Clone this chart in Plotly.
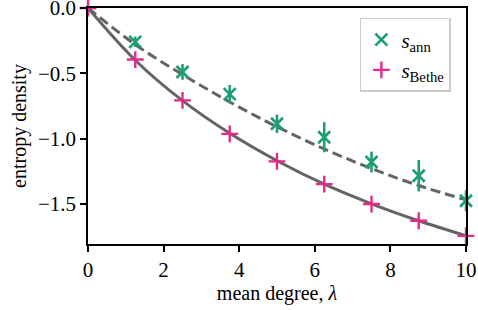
import plotly.graph_objects as go

lam = [0, 1.25, 2.5, 3.75, 5, 6.25, 7.5, 8.75, 10]
s_bethe = [0.0, -0.395, -0.708, -0.964, -1.175, -1.349, -1.502, -1.630, -1.746]
lam_ann = [1.25, 2.5, 3.75, 5, 6.25, 7.5, 8.75, 10]
s_ann = [-0.259, -0.49, -0.66, -0.887, -0.99, -1.18, -1.285, -1.477]
s_ann_err = [0.04, 0.06, 0.07, 0.07, 0.115, 0.08, 0.12, 0.08]

lam_line = [0, 1.25, 2.5, 3.75, 5, 6.25, 7.5, 8.75, 10]
solid_line = [0.0, -0.40, -0.71, -0.96, -1.17, -1.35, -1.50, -1.63, -1.745]
dashed_line = [0.0, -0.28, -0.51, -0.72, -0.91, -1.08, -1.23, -1.36, -1.47]

green = "#1b9e77"
pink = "#e7298a"
grey = "#646464"
font = "Liberation Serif"

fig = go.Figure()
fig.add_trace(go.Scatter(x=lam_line, y=dashed_line, mode="lines", line_shape="spline",
                         line=dict(color=grey, width=3, dash="10px,5px"), showlegend=False))
fig.add_trace(go.Scatter(x=lam_line, y=solid_line, mode="lines", line_shape="spline",
                         line=dict(color=grey, width=3), showlegend=False))
fig.add_trace(go.Scatter(x=lam_ann, y=s_ann, mode="markers", name="<i>s</i><sub>ann</sub>",
                         marker=dict(symbol="x-thin", size=12, color=green,
                                     line=dict(color=green, width=2.6)),
                         error_y=dict(type="data", array=s_ann_err, color=green,
                                      thickness=2.6, width=0),
                         cliponaxis=False))
fig.add_trace(go.Scatter(x=lam, y=s_bethe, mode="markers", name="<i>s</i><sub>Bethe</sub>",
                         marker=dict(symbol="cross-thin", size=12, color=pink,
                                     line=dict(color=pink, width=2.4)),
                         cliponaxis=False))

axis_common = dict(showline=True, linecolor="black", linewidth=1.6, mirror=True,
                   ticks="outside", ticklen=6, tickwidth=1.6, tickcolor="black",
                   showgrid=False, zeroline=False, ticklabeloverflow="allow",
                   automargin=False,
                   tickfont=dict(family=font, size=21, color="black"))
fig.update_xaxes(range=[0, 10], tickvals=[0, 2, 4, 6, 8, 10],
                 title=dict(text="mean degree, <i>λ</i>", font=dict(family=font, size=20, color="black"),
                            standoff=0),
                 **axis_common)
fig.update_yaxes(range=[-1.808, 0.0], tickvals=[0.0, -0.5, -1.0, -1.5], tickformat=".1f",
                 title=dict(text="entropy density", font=dict(family=font, size=20, color="black"),
                            standoff=6),
                 **axis_common)
fig.update_layout(width=478, height=310, margin=dict(l=88, r=12, t=8, b=66),
                  plot_bgcolor="white", paper_bgcolor="white",
                  font=dict(family=font, size=20, color="black"),
                  legend=dict(x=0.96, y=0.958, xanchor="right", yanchor="top",
                              bordercolor="#cccccc", borderwidth=1.5, bgcolor="white",
                              font=dict(family=font, size=21), itemwidth=30,
                              tracegroupgap=2))
fig.write_html("out.html", config={"displayModeBar": False},
               post_script="document.body.style.margin='0px';")
